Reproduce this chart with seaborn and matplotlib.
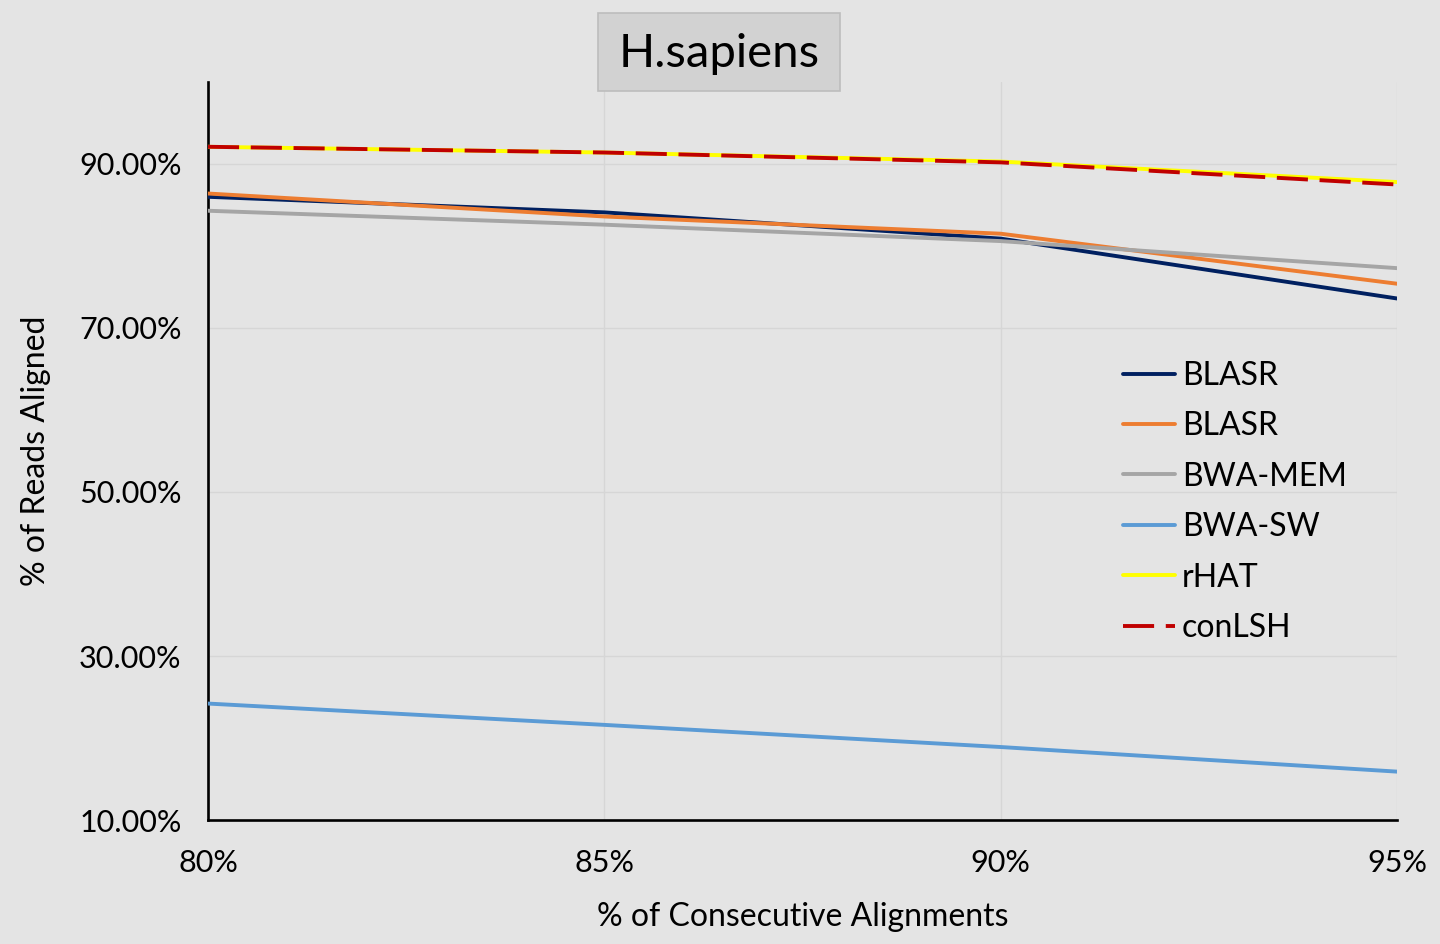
import matplotlib

matplotlib.use("Agg")
import matplotlib.pyplot as plt
from matplotlib.patches import FancyBboxPatch
from matplotlib.ticker import FuncFormatter
import pandas as pd
import seaborn as sns


# % of consecutive alignments (x) and % of reads aligned (y) per aligner
consecutive = [80, 85, 90, 95]
blasr_a = [86.0, 84.1, 80.9, 73.6]
blasr_b = [86.4, 83.6, 81.5, 75.4]
bwa_mem = [84.3, 82.6, 80.6, 77.3]
bwa_sw = [24.2, 21.6, 18.9, 15.9]
rhat = [92.1, 91.4, 90.3, 87.8]
conlsh = [92.1, 91.4, 90.2, 87.5]

series_names = ["BLASR", "BLASR", "BWA-MEM", "BWA-SW", "rHAT", "conLSH"]
series_values = [blasr_a, blasr_b, bwa_mem, bwa_sw, rhat, conlsh]
series_colors = ["#002060", "#ED7D31", "#A5A5A5", "#5B9BD5", "#FFFF00", "#C00000"]

BG = "#E4E4E4"


def _style() -> None:
    sns.set_theme(style="white")
    plt.rcParams["font.family"] = ["Lato", "DejaVu Sans"]
    plt.rcParams.update({"axes.unicode_minus": False})


def main() -> None:
    _style()
    fig = plt.figure(figsize=(14.4, 9.44), dpi=100, facecolor=BG)
    ax = fig.add_axes([208 / 1440, 1 - 820 / 944, (1397 - 208) / 1440, (820 - 82) / 944])
    ax.set_facecolor(BG)

    for i, (name, values, color) in enumerate(zip(series_names, series_values, series_colors)):
        df = pd.DataFrame({"x": consecutive, "y": values})
        style = (0, (8.0, 3.0)) if name == "conLSH" else "-"
        sns.lineplot(data=df, x="x", y="y", ax=ax, color=color, linewidth=2.8,
                     linestyle=style, label=name, zorder=3 + i)

    ax.set_xlim(80, 95)
    ax.set_ylim(10, 100)
    ax.set_xticks([80, 85, 90, 95])
    ax.set_yticks([10, 30, 50, 70, 90])
    ax.xaxis.set_major_formatter(FuncFormatter(lambda v, _: f"{v:.0f}%"))
    ax.yaxis.set_major_formatter(FuncFormatter(lambda v, _: f"{v:.2f}%"))
    ax.grid(True, color="#D6D6D6", linewidth=1.0, zorder=0)

    for side in ["top", "right"]:
        ax.spines[side].set_visible(False)
    for side in ["left", "bottom"]:
        ax.spines[side].set_color("black")
        ax.spines[side].set_linewidth(1.9)
    ax.tick_params(axis="both", direction="out", length=7, width=1.9, color="black",
                   labelsize=22, labelcolor="black")
    ax.tick_params(axis="x", pad=14)
    ax.tick_params(axis="y", pad=12)

    ax.set_xlabel("% of Consecutive Alignments", fontsize=23, color="black", labelpad=18)
    ax.set_ylabel("% of Reads Aligned", fontsize=23, color="black", labelpad=20)

    leg = ax.legend(loc="upper left", bbox_to_anchor=((1110 - 208) / (1397 - 208), (820 - 348) / (820 - 82)),
                    frameon=False, fontsize=23, handlelength=1.65, handletextpad=0.2,
                    labelspacing=0.64, borderaxespad=0)
    for text in leg.get_texts():
        text.set_color("black")

    # title in a grey box
    box = FancyBboxPatch((598 / 1440, 1 - 91 / 944), (840 - 598) / 1440, (91 - 13) / 944,
                         boxstyle="square,pad=0", transform=fig.transFigure,
                         facecolor="#D2D2D2", edgecolor="#BDBDBD", linewidth=1.2)
    fig.patches.append(box)
    fig.text(719 / 1440, 1 - 54 / 944, "H.sapiens", ha="center", va="center",
             fontsize=34, color="black")

    fig.savefig("out.png", dpi=100, facecolor=BG)
    plt.close(fig)


if __name__ == "__main__":
    main()
